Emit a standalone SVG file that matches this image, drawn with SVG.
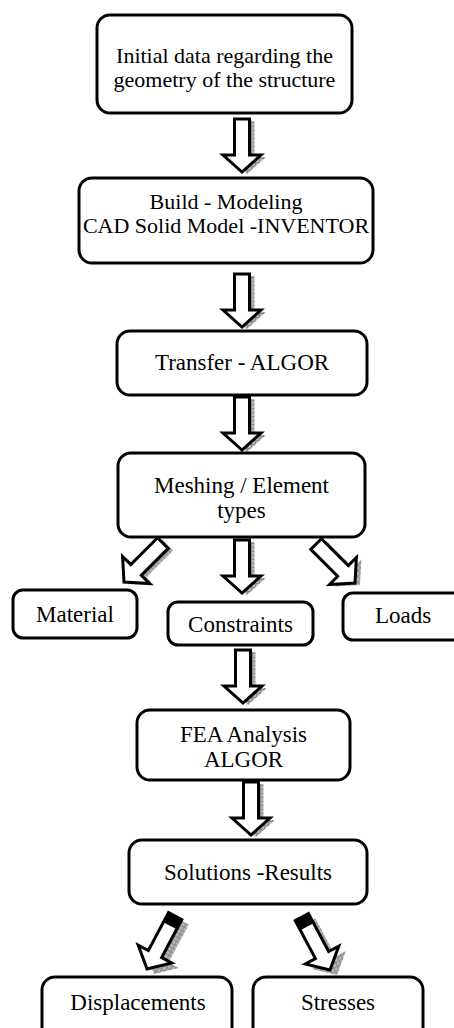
<svg xmlns="http://www.w3.org/2000/svg" width="454" height="1028" viewBox="0 0 454 1028">
<style>
.box{fill:#fff;stroke:#000;stroke-width:3}
.t{font-family:"Liberation Serif","Times New Roman",serif;font-size:23px;fill:#000;text-anchor:middle}
.s{font-size:22px}
.arr{fill:#fff;stroke:#000;stroke-width:3;stroke-linejoin:miter}
.sh{fill:url(#hatch)}
</style>
<defs>
<pattern id="hatch" width="4" height="4" patternUnits="userSpaceOnUse">
<rect width="4" height="4" fill="#b4b4b4"/>
<path d="M0,0.5H4M0.5,0V4" stroke="#8a8a8a" stroke-width="1"/>
</pattern>
<path id="aV" d="M-7.5,-53H7.5V-17H19L0,0L-19,-17H-7.5Z"/>
<path id="aD" d="M-7.5,-55H7.5V-17H19L0,0L-19,-17H-7.5Z"/>
<path id="aS" d="M-7.5,-60H7.5V-17H19L0,0L-19,-17H-7.5Z"/>
</defs>

<g id="connectors">
<g transform="translate(242,172)"><use href="#aV" class="sh" x="5" y="2"/><use href="#aV" class="arr"/></g>
<g transform="translate(242,327)"><use href="#aV" class="sh" x="5" y="2"/><use href="#aV" class="arr"/></g>
<g transform="translate(242,450)"><use href="#aV" class="sh" x="5" y="2"/><use href="#aV" class="arr"/></g>
<g transform="translate(242,593)"><use href="#aV" class="sh" x="5" y="2"/><use href="#aV" class="arr"/></g>
<g transform="translate(243,703)"><use href="#aV" class="sh" x="5" y="2"/><use href="#aV" class="arr"/></g>
<g transform="translate(251,835)"><use href="#aV" class="sh" x="5" y="2"/><use href="#aV" class="arr"/></g>
<g transform="translate(124,582)"><use href="#aD" class="sh" transform="translate(5,2) rotate(45)"/><use href="#aD" class="arr" transform="rotate(45)"/></g>
<g transform="translate(355,583)"><use href="#aD" class="sh" transform="translate(5,2) rotate(-45)"/><use href="#aD" class="arr" transform="rotate(-45)"/></g>
<g transform="translate(147,969)"><use href="#aS" class="sh" transform="translate(7,5) rotate(28)"/><g transform="rotate(28)"><use href="#aS" class="arr"/><rect x="-7.5" y="-60" width="15" height="11" fill="#000"/></g></g>
<g transform="translate(330,970)"><use href="#aS" class="sh" transform="translate(7,5) rotate(-28)"/><g transform="rotate(-28)"><use href="#aS" class="arr"/><rect x="-7.5" y="-60" width="15" height="11" fill="#000"/></g></g>
</g>

<g id="n1"><rect class="box" x="97" y="15" width="255" height="98" rx="13"/><text class="t s" x="224.5" y="63">Initial data regarding the</text><text class="t s" x="224.5" y="87">geometry of the structure</text></g>
<g id="n2"><rect class="box" x="79" y="178" width="294" height="85" rx="13"/><text class="t s" x="226" y="209">Build - Modeling</text><text class="t s" x="226" y="233">CAD Solid Model -INVENTOR</text></g>
<g id="n3"><rect class="box" x="117" y="331" width="250" height="64" rx="13"/><text class="t" x="242" y="370">Transfer - ALGOR</text></g>
<g id="n4"><rect class="box" x="118" y="453" width="247" height="84" rx="13"/><text class="t" x="241.5" y="493">Meshing / Element</text><text class="t" x="241.5" y="518">types</text></g>
<g id="n5"><rect class="box" x="13" y="590" width="124" height="48" rx="10"/><text class="t" x="75" y="622">Material</text></g>
<g id="n6"><rect class="box" x="168" y="602" width="145" height="43" rx="10"/><text class="t" x="240.5" y="632">Constraints</text></g>
<g id="n7"><rect class="box" x="343" y="593" width="125" height="47" rx="10"/><text class="t" x="403" y="623">Loads</text></g>
<g id="n8"><rect class="box" x="137" y="710" width="213" height="70" rx="13"/><text class="t" x="243.5" y="742">FEA Analysis</text><text class="t" x="243.5" y="767">ALGOR</text></g>
<g id="n9"><rect class="box" x="129" y="840" width="238" height="64" rx="13"/><text class="t" x="248" y="880">Solutions -Results</text></g>
<g id="n10"><rect class="box" x="42" y="977" width="190" height="70" rx="13"/><text class="t" x="138" y="1010">Displacements</text></g>
<g id="n11"><rect class="box" x="253" y="977" width="170" height="70" rx="13"/><text class="t" x="338" y="1010">Stresses</text></g>
</svg>
